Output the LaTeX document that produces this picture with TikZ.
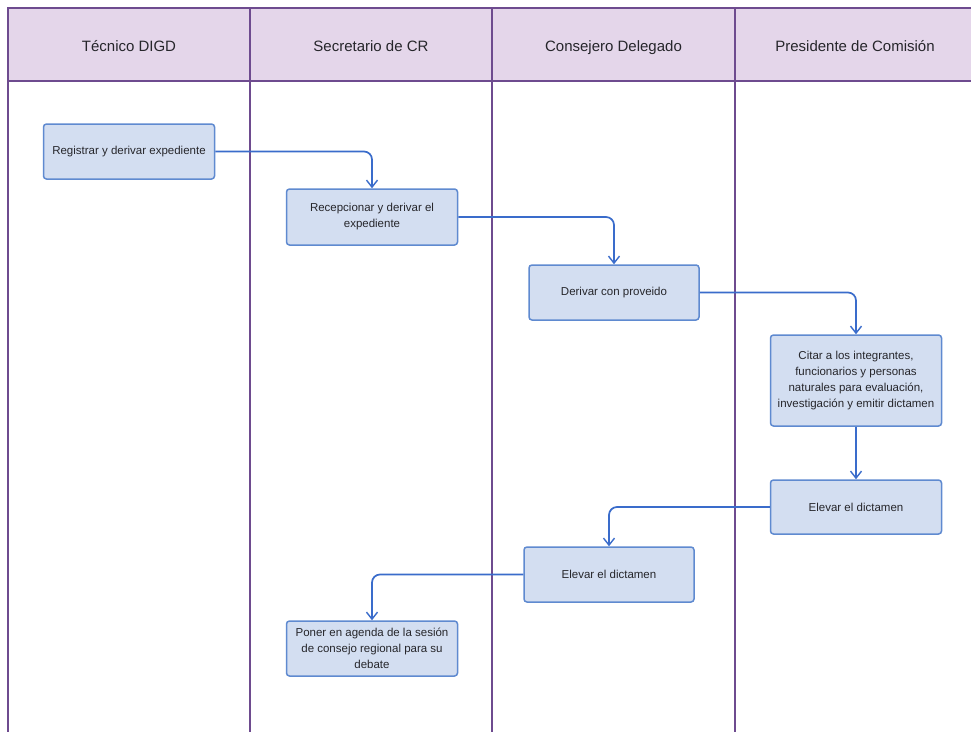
\documentclass[tikz,border=0pt]{standalone}
\usepackage{fontspec}
\setmainfont{Liberation Sans}
\usetikzlibrary{arrows.meta}
\definecolor{lanepurple}{HTML}{6E4B8F}
\definecolor{headfill}{HTML}{E4D6EA}
\definecolor{boxfill}{HTML}{D3DEF1}
\definecolor{boxline}{HTML}{5F8AD0}
\definecolor{flowblue}{HTML}{3A6CCB}
\definecolor{inkgray}{HTML}{26262B}
\tikzset{
  lane/.style={draw=lanepurple, line width=1.8pt},
  lanehead/.style={font=\fontsize{15}{18}\selectfont, text=inkgray, anchor=base},
  task/.style={draw=boxline, fill=boxfill, line width=1.5pt, rounded corners=3pt,
    font=\fontsize{11.5}{16}\selectfont, text=inkgray, align=center,
    inner sep=0pt, minimum width=171pt},
  flow/.style={draw=flowblue, line width=1.7pt, rounded corners=8pt,
    -{Straight Barb[length=7pt,width=11pt,line width=1.4pt]}},
}
\begin{document}
\begin{tikzpicture}[x=1pt,y=-1pt]
  \clip (0,0) rectangle (971,731);
  \useasboundingbox (0,0) rectangle (971,731);
  \fill[white] (0,0) rectangle (971,731);

  % swimlane header band and lane borders
  \fill[headfill] (8,8) rectangle (980,81);
  \draw[lane] (980,8) -- (8,8) -- (8,740);
  \draw[lane] (8,81) -- (980,81);
  \draw[lane] (250,8) -- (250,740);
  \draw[lane] (492,8) -- (492,740);
  \draw[lane] (735,8) -- (735,740);

  \node[lanehead] (h1) at (129,51) {Técnico DIGD};
  \node[lanehead] (h2) at (371,51) {Secretario de CR};
  \node[lanehead] (h3) at (613.5,51) {Consejero Delegado};
  \node[lanehead] (h4) at (855,51) {Presidente de Comisión};

  % activities
  \node[task, minimum height=55pt] (reg) at (129,151.5) {Registrar y derivar expediente};
  \node[task, minimum height=56pt] (rec) at (372,217) {Recepcionar y derivar el\\expediente};
  \node[task, minimum height=55pt, minimum width=170pt] (der) at (614,292.5) {Derivar con proveido};
  \node[task, minimum height=91pt] (cit) at (856,380.5) {Citar a los integrantes,\\funcionarios y personas\\naturales para evaluación,\\investigación y emitir dictamen};
  \node[task, minimum height=54pt] (elp) at (856,507) {Elevar el dictamen};
  \node[task, minimum height=55pt, minimum width=170pt] (elc) at (609,574.5) {Elevar el dictamen};
  \node[task, minimum height=55pt] (pon) at (372,648.5) {Poner en agenda de la sesión\\de consejo regional para su\\debate};

  % sequence flow
  \draw[flow] (reg.east) -| (rec.north);
  \draw[flow] (rec.east) -| (der.north);
  \draw[flow] (der.east) -| (cit.north);
  \draw[flow] (cit.south) -- (elp.north);
  \draw[flow] (elp.west) -| (elc.north);
  \draw[flow] (elc.west) -| (pon.north);
\end{tikzpicture}
\end{document}
